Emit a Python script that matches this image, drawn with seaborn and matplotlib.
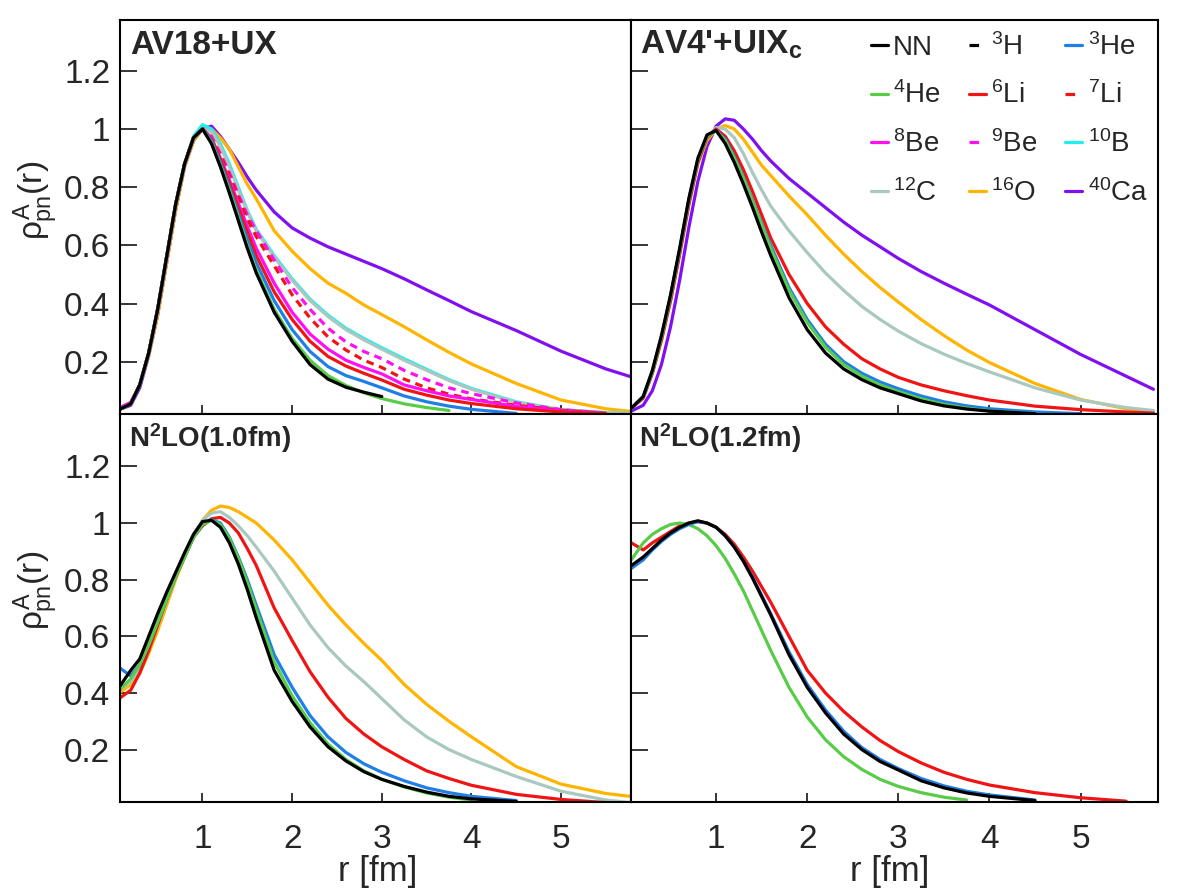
import matplotlib
matplotlib.use("Agg")
import matplotlib.pyplot as plt
from matplotlib.lines import Line2D
import seaborn as sns

# --- DATA ---
R = [0.07, 0.2, 0.3, 0.4, 0.5, 0.6, 0.7, 0.8, 0.9, 1.0, 1.1, 1.2, 1.3, 1.4, 1.5, 1.6,
     1.8, 2.0, 2.2, 2.4, 2.6, 2.8, 3.0, 3.25, 3.5, 3.75, 4.0, 4.5, 5.0, 5.5, 5.8]

# AV18+UX
av18_NN = [0.035, 0.055, 0.12, 0.23, 0.38, 0.56, 0.74, 0.88, 0.97, 1.0, 0.95, 0.87, 0.78, 0.685, 0.59, 0.505,
           0.37, 0.27, 0.19, 0.14, 0.112, 0.095, 0.08]
av18_He4 = [0.035, 0.055, 0.12, 0.23, 0.38, 0.56, 0.74, 0.88, 0.97, 1.0, 0.955, 0.875, 0.79, 0.695, 0.6, 0.515,
            0.38, 0.28, 0.205, 0.152, 0.118, 0.093, 0.073, 0.055, 0.042, 0.032]
av18_He3 = [0.035, 0.055, 0.12, 0.23, 0.38, 0.56, 0.74, 0.88, 0.97, 1.0, 0.96, 0.885, 0.8, 0.71, 0.62, 0.54,
            0.41, 0.31, 0.235, 0.183, 0.152, 0.132, 0.11, 0.082, 0.062, 0.047, 0.036, 0.022]
av18_Li6 = [0.035, 0.055, 0.12, 0.23, 0.38, 0.56, 0.74, 0.88, 0.97, 1.0, 0.965, 0.895, 0.815, 0.73, 0.645, 0.565,
            0.44, 0.345, 0.27, 0.218, 0.185, 0.16, 0.137, 0.105, 0.085, 0.068, 0.056, 0.038, 0.027, 0.021]
av18_Li7 = [0.035, 0.055, 0.12, 0.23, 0.38, 0.56, 0.74, 0.88, 0.97, 1.0, 0.97, 0.91, 0.84, 0.765, 0.69, 0.63,
            0.53, 0.43, 0.35, 0.285, 0.24, 0.205, 0.18, 0.14, 0.11, 0.088, 0.072, 0.05, 0.033, 0.023]
av18_Be8 = [0.04, 0.06, 0.12, 0.23, 0.38, 0.56, 0.74, 0.88, 0.97, 1.0, 0.97, 0.9, 0.825, 0.745, 0.665, 0.59,
            0.47, 0.37, 0.295, 0.243, 0.205, 0.18, 0.158, 0.12, 0.1, 0.082, 0.07, 0.046, 0.03, 0.021]
av18_Be9 = [0.04, 0.06, 0.12, 0.23, 0.38, 0.56, 0.74, 0.88, 0.97, 1.0, 0.975, 0.915, 0.85, 0.775, 0.705, 0.65,
            0.55, 0.455, 0.38, 0.315, 0.268, 0.235, 0.21, 0.17, 0.138, 0.11, 0.09, 0.058, 0.035, 0.023]
av18_B10 = [0.035, 0.055, 0.12, 0.23, 0.38, 0.56, 0.74, 0.88, 0.975, 1.015, 1.0, 0.95, 0.88, 0.8, 0.72, 0.655,
            0.565, 0.485, 0.415, 0.36, 0.315, 0.28, 0.248, 0.21, 0.174, 0.138, 0.108, 0.062, 0.035, 0.025, 0.022]
av18_C12 = [0.035, 0.055, 0.12, 0.23, 0.38, 0.56, 0.74, 0.88, 0.97, 1.0, 0.99, 0.94, 0.87, 0.79, 0.715, 0.65,
            0.56, 0.48, 0.41, 0.355, 0.31, 0.275, 0.243, 0.205, 0.17, 0.135, 0.105, 0.06, 0.034, 0.024, 0.022]
av18_O16 = [0.035, 0.06, 0.12, 0.22, 0.36, 0.54, 0.72, 0.87, 0.96, 1.0, 1.0, 0.97, 0.93, 0.87, 0.81, 0.76,
            0.65, 0.58, 0.52, 0.47, 0.435, 0.395, 0.362, 0.32, 0.275, 0.232, 0.192, 0.125, 0.068, 0.038, 0.028]
av18_Ca40 = [0.035, 0.05, 0.11, 0.22, 0.36, 0.54, 0.72, 0.87, 0.96, 1.0, 1.01, 0.975, 0.93, 0.885, 0.835, 0.79,
             0.715, 0.66, 0.625, 0.595, 0.57, 0.545, 0.52, 0.485, 0.447, 0.41, 0.372, 0.307, 0.236, 0.175, 0.146]

# AV4'+UIXc
av4_NN = [0.04, 0.08, 0.17, 0.29, 0.43, 0.59, 0.76, 0.9, 0.98, 0.995, 0.95, 0.885, 0.81, 0.73, 0.645, 0.565,
          0.42, 0.31, 0.23, 0.175, 0.138, 0.11, 0.09, 0.065, 0.048, 0.037, 0.03, 0.021]
av4_He4 = [0.04, 0.08, 0.165, 0.285, 0.425, 0.585, 0.755, 0.895, 0.975, 0.995, 0.96, 0.9, 0.83, 0.75, 0.67, 0.59,
           0.445, 0.335, 0.25, 0.19, 0.15, 0.12, 0.097, 0.072, 0.053, 0.04, 0.031, 0.021]
av4_He3 = [0.04, 0.08, 0.165, 0.285, 0.425, 0.585, 0.755, 0.895, 0.975, 0.995, 0.965, 0.905, 0.835, 0.755, 0.675, 0.6,
           0.455, 0.345, 0.26, 0.2, 0.16, 0.13, 0.107, 0.082, 0.062, 0.048, 0.038, 0.027, 0.021]
av4_Li6 = [0.04, 0.075, 0.16, 0.275, 0.41, 0.57, 0.74, 0.885, 0.97, 1.0, 0.975, 0.925, 0.86, 0.785, 0.705, 0.625,
           0.5, 0.4, 0.32, 0.26, 0.21, 0.175, 0.146, 0.12, 0.1, 0.083, 0.068, 0.047, 0.035, 0.027, 0.023]
av4_C12 = [0.04, 0.075, 0.16, 0.275, 0.41, 0.57, 0.74, 0.885, 0.97, 1.005, 1.0, 0.97, 0.915, 0.85, 0.79, 0.735,
           0.65, 0.575, 0.505, 0.445, 0.39, 0.345, 0.305, 0.262, 0.226, 0.194, 0.165, 0.11, 0.068, 0.042, 0.032]
av4_O16 = [0.04, 0.075, 0.16, 0.27, 0.41, 0.57, 0.74, 0.88, 0.96, 1.0, 1.012, 1.0, 0.965, 0.92, 0.875, 0.84,
           0.77, 0.705, 0.635, 0.57, 0.51, 0.455, 0.405, 0.345, 0.29, 0.24, 0.197, 0.125, 0.07, 0.038, 0.028]
av4_Ca40 = [0.03, 0.05, 0.1, 0.19, 0.32, 0.48, 0.66, 0.82, 0.94, 1.01, 1.035, 1.03, 1.0, 0.965, 0.925, 0.89,
            0.83, 0.78, 0.73, 0.68, 0.635, 0.595, 0.555, 0.51, 0.47, 0.432, 0.395, 0.31, 0.225, 0.15, 0.105]

# N2LO(1.0fm)
n10_NN = [0.42, 0.48, 0.52, 0.6, 0.68, 0.755, 0.825, 0.895, 0.96, 1.005, 1.01, 0.985, 0.93, 0.855, 0.765, 0.665,
          0.48, 0.37, 0.28, 0.21, 0.16, 0.122, 0.095, 0.07, 0.05, 0.035, 0.026, 0.017]
n10_He4 = [0.41, 0.45, 0.5, 0.57, 0.65, 0.73, 0.81, 0.88, 0.95, 0.995, 1.01, 0.995, 0.945, 0.875, 0.79, 0.695,
           0.51, 0.39, 0.295, 0.22, 0.165, 0.125, 0.095, 0.068, 0.047, 0.032, 0.022]
n10_He3 = [0.49, 0.46, 0.5, 0.57, 0.65, 0.73, 0.81, 0.88, 0.95, 0.995, 1.012, 1.0, 0.95, 0.88, 0.8, 0.71,
           0.535, 0.42, 0.32, 0.245, 0.19, 0.15, 0.12, 0.09, 0.065, 0.048, 0.035, 0.02]
n10_Li6 = [0.38, 0.41, 0.47, 0.55, 0.64, 0.73, 0.81, 0.88, 0.95, 0.99, 1.015, 1.02, 1.0, 0.965, 0.91, 0.85,
           0.7, 0.585, 0.475, 0.385, 0.31, 0.255, 0.21, 0.165, 0.125, 0.098, 0.074, 0.042, 0.024, 0.013]
n10_C12 = [0.41, 0.44, 0.49, 0.56, 0.64, 0.73, 0.81, 0.89, 0.96, 1.01, 1.035, 1.04, 1.02, 0.99, 0.955, 0.915,
           0.83, 0.735, 0.64, 0.56, 0.495, 0.44, 0.38, 0.305, 0.245, 0.2, 0.165, 0.105, 0.053, 0.022, 0.012]
n10_O16 = [0.4, 0.43, 0.47, 0.54, 0.62, 0.71, 0.8, 0.88, 0.95, 1.01, 1.045, 1.06, 1.055, 1.04, 1.02, 1.0,
           0.94, 0.87, 0.79, 0.71, 0.64, 0.575, 0.515, 0.43, 0.36, 0.3, 0.245, 0.14, 0.078, 0.045, 0.034]

# N2LO(1.2fm)
n12_NN = [0.85, 0.88, 0.91, 0.94, 0.965, 0.985, 1.0, 1.008, 1.0, 0.985, 0.955, 0.915, 0.865, 0.805, 0.74, 0.675,
          0.535, 0.42, 0.33, 0.255, 0.2, 0.158, 0.128, 0.09, 0.065, 0.047, 0.035, 0.02]
n12_He4 = [0.87, 0.93, 0.96, 0.98, 0.995, 1.0, 0.995, 0.98, 0.955, 0.92, 0.875, 0.82, 0.76, 0.69, 0.62, 0.55,
           0.42, 0.315, 0.235, 0.175, 0.13, 0.095, 0.07, 0.048, 0.032, 0.022]
n12_He3 = [0.84, 0.87, 0.905, 0.935, 0.96, 0.98, 0.995, 1.005, 1.0, 0.985, 0.955, 0.915, 0.865, 0.81, 0.745, 0.68,
           0.545, 0.43, 0.34, 0.265, 0.207, 0.165, 0.133, 0.098, 0.072, 0.053, 0.04, 0.022]
n12_Li6 = [0.93, 0.905, 0.93, 0.95, 0.97, 0.99, 1.0, 1.005, 1.0, 0.985, 0.96, 0.925, 0.88, 0.83, 0.775, 0.72,
           0.6, 0.48, 0.4, 0.335, 0.28, 0.232, 0.193, 0.153, 0.12, 0.095, 0.075, 0.048, 0.03, 0.018]

nuclei = ["NN", "$^{3}$H", "$^{3}$He", "$^{4}$He", "$^{6}$Li", "$^{7}$Li",
          "$^{8}$Be", "$^{9}$Be", "$^{10}$B", "$^{12}$C", "$^{16}$O", "$^{40}$Ca"]
panel_titles = ["AV18+UX", "AV4'+UIX$_{\\mathbf{c}}$", "N$^{\\mathbf{2}}$LO(1.0fm)", "N$^{\\mathbf{2}}$LO(1.2fm)"]
yticks = [0.2, 0.4, 0.6, 0.8, 1.0, 1.2]
ytick_labels = ["0.2", "0.4", "0.6", "0.8", "1", "1.2"]
xticks = [1, 2, 3, 4, 5]
xtick_labels = ["1", "2", "3", "4", "5"]

# --- STYLE ---
COL = {"NN": "#000000", "H3": "#000000", "He3": "#1f7fe6", "He4": "#58cc48",
       "Li6": "#f01414", "Li7": "#f01414", "Be8": "#ff10f0", "Be9": "#ff10f0",
       "B10": "#22eeee", "C12": "#a9c8c0", "O16": "#ffb400", "Ca40": "#8010f0"}
DASH = (0, (2.4, 1.8))
LEG_DASH = (0, (3.0, 3.0))
LW = 2.3

sns.set_style("ticks")
plt.rcParams["font.family"] = ["Liberation Sans", "DejaVu Sans"]
plt.rcParams["mathtext.fontset"] = "custom"
plt.rcParams["mathtext.rm"] = "Liberation Sans"
plt.rcParams["mathtext.it"] = "Liberation Sans"
plt.rcParams["mathtext.bf"] = "Liberation Sans:bold"

W, H = 1182, 894
fig = plt.figure(figsize=(W / 100, H / 100), dpi=100)


def px_axes(l, t, r, b):
    return fig.add_axes([l / W, 1 - b / H, (r - l) / W, (b - t) / H])


def draw(ax, vals, key, dashed=False):
    r = R[:len(vals)]
    sns.lineplot(x=r, y=vals, ax=ax, color=COL[key], linewidth=LW,
                 linestyle=DASH if dashed else "-", errorbar=None, legend=False)


ax_tl = px_axes(120, 20, 631, 414)
ax_tr = px_axes(631, 20, 1158, 414)
ax_bl = px_axes(120, 414, 631, 802)
ax_br = px_axes(631, 414, 1158, 802)

# top-left
draw(ax_tl, av18_Ca40, "Ca40")
draw(ax_tl, av18_O16, "O16")
draw(ax_tl, av18_B10, "B10")
draw(ax_tl, av18_C12, "C12")
draw(ax_tl, av18_Be9, "Be9", dashed=True)
draw(ax_tl, av18_Li7, "Li7", dashed=True)
draw(ax_tl, av18_Be8, "Be8")
draw(ax_tl, av18_Li6, "Li6")
draw(ax_tl, av18_He3, "He3")
draw(ax_tl, av18_He4, "He4")
draw(ax_tl, av18_NN, "NN")

# top-right
draw(ax_tr, av4_Ca40, "Ca40")
draw(ax_tr, av4_O16, "O16")
draw(ax_tr, av4_C12, "C12")
draw(ax_tr, av4_Li6, "Li6")
draw(ax_tr, av4_He3, "He3")
draw(ax_tr, av4_He4, "He4")
draw(ax_tr, av4_NN, "NN")

# bottom-left
draw(ax_bl, n10_O16, "O16")
draw(ax_bl, n10_C12, "C12")
draw(ax_bl, n10_Li6, "Li6")
draw(ax_bl, n10_He3, "He3")
draw(ax_bl, n10_He4, "He4")
draw(ax_bl, n10_NN, "NN")

# bottom-right
draw(ax_br, n12_Li6, "Li6")
draw(ax_br, n12_He4, "He4")
draw(ax_br, n12_He3, "He3")
draw(ax_br, n12_NN, "NN")

for ax in (ax_tl, ax_tr, ax_bl, ax_br):
    for sp in ax.spines.values():
        sp.set_linewidth(1.5)
        sp.set_color("black")
    ax.set_xticks(xticks)
    ax.set_yticks(yticks)
    ax.tick_params(axis="y", direction="in", length=12, width=1.3, pad=7, labelsize=24)
    ax.tick_params(axis="x", direction="in", length=6.5, width=1.3, pad=16, labelsize=24)
    ax.set_xlabel("")
    ax.set_ylabel("")

for ax in (ax_tl, ax_bl):
    ax.set_xlim(0.08, 5.78)
    ax.set_yticklabels(ytick_labels)
for ax in (ax_tr, ax_br):
    ax.set_xlim(0.066, 5.85)
    ax.set_yticklabels([])
for ax in (ax_tl, ax_tr):
    ax.set_ylim(0.02, 1.375)
    ax.set_xticklabels([])
for ax in (ax_bl, ax_br):
    ax.set_ylim(0.015, 1.385)
    ax.set_xticklabels(xtick_labels)

# panel titles
for (x, y), txt in zip([(130, 45), (640, 45), (129, 438), (639, 438)], panel_titles):
    size = 24 if y < 100 else 20
    fig.text(x / W, 1 - y / H, txt, fontsize=size, fontweight="bold", ha="left", va="center")

# axis labels
for y in (200, 590):
    fig.text(36 / W, 1 - y / H, r"$\rho^{A}_{pn}(r)$", fontsize=24, rotation=90, ha="center", va="center")
for x in (378, 890):
    fig.text(x / W, 1 - 872 / H, "r [fm]", fontsize=25, ha="center", va="center")

# legend, filled column-major so rows read NN, 3H, 3He / 4He, ...
keys = ["NN", "H3", "He3", "He4", "Li6", "Li7", "Be8", "Be9", "B10", "C12", "O16", "Ca40"]
dashed_keys = {"H3", "Li7", "Be9"}
handles = [Line2D([], [], color=COL[k], linewidth=LW, linestyle=LEG_DASH if k in dashed_keys else "-")
           for k in keys]
order = [0, 3, 6, 9, 1, 4, 7, 10, 2, 5, 8, 11]
ax_tr.legend([handles[i] for i in order], [nuclei[i] for i in order], ncol=3, frameon=False,
             loc="upper left", bbox_to_anchor=(871 / W, 1 - 33 / H), bbox_transform=fig.transFigure,
             fontsize=20, handlelength=0.6, handletextpad=0.2, columnspacing=1.0,
             labelspacing=0.75, borderpad=0, borderaxespad=0)

fig.savefig("out.png", dpi=100)
